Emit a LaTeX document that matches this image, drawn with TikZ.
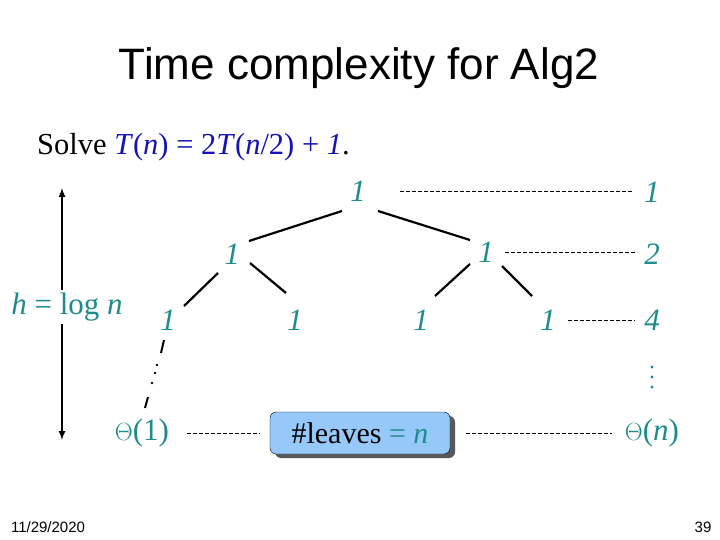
\documentclass[tikz,border=0pt]{standalone}
\usepackage{fontspec}
\setmainfont{Liberation Serif}
\newfontfamily\arialf{Liberation Sans}
\definecolor{teal1}{RGB}{30,140,140}
\definecolor{blu}{RGB}{20,20,180}
\definecolor{boxfill}{RGB}{150,200,250}
\begin{document}
\begin{tikzpicture}[x=1pt,y=-1pt,
  num/.style={text=teal1,font=\fontsize{31}{33}\selectfont\itshape,inner sep=0pt},
  lbl/.style={text=teal1,font=\fontsize{31}{33}\selectfont,inner sep=0pt},
  edge/.style={line width=2.2pt},
  dsh/.style={dash pattern=on 4pt off 2pt,line width=0.6pt}]
\useasboundingbox (0,0) rectangle (720,540);
\fill[white] (0,0) rectangle (720,540);
\node (title) at (359,68) {\arialf\fontsize{44}{48}\selectfont Time complexity for Alg2};
\node[anchor=west,inner sep=0pt] (solve) at (37,147) {\fontsize{30.5}{33}\selectfont Solve \textcolor{blu}{\textit{T}(\textit{n}) = 2\textit{T}(\textit{n}/2) + \textit{1}}.};
\node[num] (r) at (358,191) {1};
\node[num] (c1) at (652,192) {1};
\node[num] (a) at (232,254) {1};
\node[num] (b) at (486,252) {1};
\node[num] (c2) at (652,254) {2};
\node[num] (a1) at (168,320) {1};
\node[num] (a2) at (295,320) {1};
\node[num] (b1) at (421,320) {1};
\node[num] (b2) at (548,320) {1};
\node[num] (c4) at (652,320) {4};
\coordinate (vd) at (652,377);
\fill[teal1] (vd) ++(0,-10) circle (1.6pt) (vd) circle (1.6pt) (vd) ++(0,10) circle (1.6pt);
\node[lbl] (t1) at (142,433) {$\Theta$(1)};
\node[lbl] (tn) at (652,433) {$\Theta$(\textit{n})};
\node[lbl] (h) at (67,307) {\textit{h} = log \textit{n}};
\fill[gray!70!black,rounded corners=6pt] (275,416) rectangle (455,458);
\node[draw=black,fill=boxfill,rounded corners=6pt,minimum width=180pt,minimum height=42pt,inner sep=0pt,font=\fontsize{30}{32}\selectfont] (box) at (360,433) {\#leaves \textcolor{teal1}{= \textit{n}}};
\coordinate (top) at (62,188);
\coordinate (bot) at (62,440);
\draw[line width=2pt,-latex] (62,290) -- (top);
\draw[line width=2pt,-latex] (62,324) -- (bot);
\draw[edge] (342,211) -- (249,241);
\draw[edge] (378,211) -- (470,240);
\draw[edge] (218,273) -- (184,306);
\draw[edge] (250,263) -- (286,293);
\draw[edge] (470,264) -- (435,296);
\draw[edge] (502,266) -- (532,296);
\draw[line width=2pt] (164,340) -- (161,353);
\fill (157,365) circle (1.3pt) (155,373) circle (1.3pt) (152,383) circle (1.3pt);
\draw[line width=2pt] (148,397) -- (145,408);
\draw[dsh] (400,191) -- (632,191);
\draw[dsh] (505,252) -- (637,252);
\draw[dsh] (568,320) -- (635,320);
\draw[dsh] (187,433) -- (260,433);
\draw[dsh] (466,433) -- (612,433);
\node (d) at (48,527) {\arialf\fontsize{15}{16}\selectfont 11/29/2020};
\node (p) at (703,527) {\arialf\fontsize{15}{16}\selectfont 39};
\end{tikzpicture}
\end{document}
